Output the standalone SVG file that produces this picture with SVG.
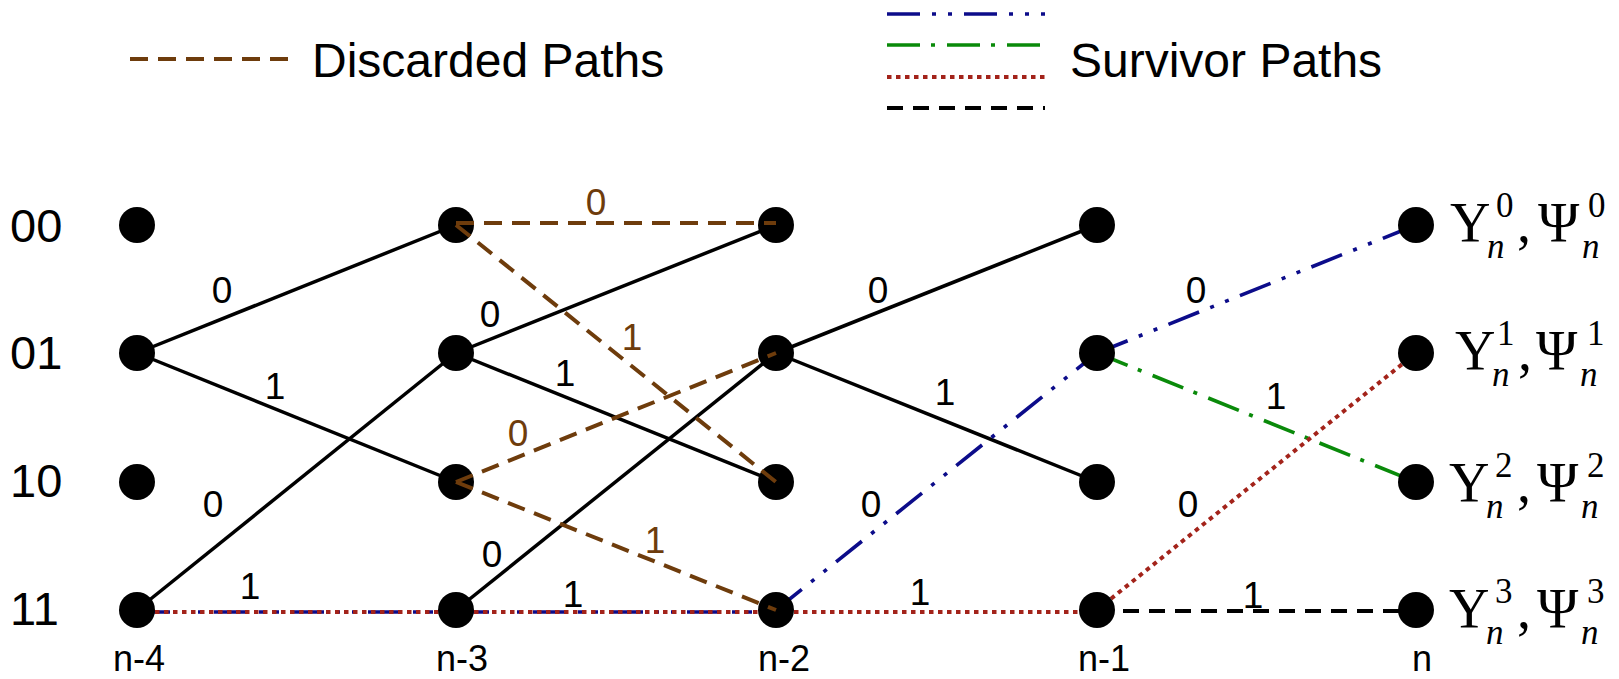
<svg xmlns="http://www.w3.org/2000/svg" width="1619" height="679" viewBox="0 0 1619 679">
<style>
.sans{font-family:"Liberation Sans",Arial,sans-serif;fill:#000}
.row{font-size:47px}
.col{font-size:36px;text-anchor:middle}
.el{font-size:37px;text-anchor:middle}
.elb{fill:#6e3c0c}
.leg{font-size:48px}
.serif{font-family:"Liberation Serif","Times New Roman",serif;fill:#000}
.big{font-size:56px}
.sm{font-size:35px}
.it{font-style:italic}
.solid{stroke:#000;stroke-width:3.5;fill:none}
.disc{stroke:#6e3c0c;stroke-width:4;stroke-dasharray:18 10;fill:none}
.blue{stroke:#0c0c8a;stroke-width:3.6;stroke-dasharray:33 12 4 12 4 12;fill:none}
.green{stroke:#0a8a0a;stroke-width:3.6;stroke-dasharray:33 11 4 12;fill:none}
.red{stroke:#a3231a;stroke-width:4;stroke-dasharray:4.5 4.5;fill:none}
.blk{stroke:#000;stroke-width:4;stroke-dasharray:16 10;fill:none}
.node{fill:#000}
</style>

<g id="legend">
<line class="disc" x1="130" y1="59" x2="288" y2="59"/>
<text class="sans leg" x="312" y="77">Discarded Paths</text>
<line class="blue" x1="887" y1="14" x2="1045" y2="14"/>
<line class="green" x1="887" y1="45" x2="1045" y2="45"/>
<line class="red" x1="887" y1="77" x2="1045" y2="77"/>
<line class="blk" x1="887" y1="108" x2="1045" y2="108"/>
<text class="sans leg" x="1070" y="77">Survivor Paths</text>
</g>

<g id="row-labels" class="sans row">
<text x="10" y="242">00</text>
<text x="10" y="369">01</text>
<text x="10" y="497">10</text>
<text x="10" y="625">11</text>
</g>

<g id="col-labels" class="sans col">
<text x="139" y="671">n-4</text>
<text x="462" y="671">n-3</text>
<text x="784" y="671">n-2</text>
<text x="1104" y="671">n-1</text>
<text x="1422" y="671">n</text>
</g>

<g id="connectors">
<line class="solid" x1="137" y1="353" x2="456" y2="225"/>
<line class="solid" x1="137" y1="353" x2="456" y2="482"/>
<line class="solid" x1="137" y1="610" x2="456" y2="353"/>
<line class="blue" x1="137" y1="612" x2="456" y2="612"/>
<line class="red" x1="137" y1="612" x2="456" y2="612"/>
<line class="solid" x1="456" y1="353" x2="776" y2="225"/>
<line class="solid" x1="456" y1="353" x2="776" y2="482"/>
<line class="solid" x1="456" y1="610" x2="776" y2="353"/>
<line class="blue" x1="456" y1="612" x2="776" y2="612"/>
<line class="red" x1="456" y1="612" x2="776" y2="612"/>
<line class="solid" x1="776" y1="353" x2="1097" y2="225"/>
<line class="solid" x1="776" y1="353" x2="1097" y2="482"/>
<line class="blue" x1="776" y1="610" x2="1097" y2="353"/>
<line class="red" x1="776" y1="612" x2="1097" y2="612"/>
<line class="blue" x1="1097" y1="353" x2="1416" y2="225"/>
<line class="green" x1="1097" y1="353" x2="1416" y2="482"/>
<line class="red" x1="1097" y1="610" x2="1416" y2="353"/>
<line class="blk" x1="1097" y1="611" x2="1416" y2="611"/>
</g>

<g id="nodes">
<g id="n4-00"><circle class="node" cx="137" cy="225" r="18"/></g>
<g id="n4-01"><circle class="node" cx="137" cy="353" r="18"/></g>
<g id="n4-10"><circle class="node" cx="137" cy="482" r="18"/></g>
<g id="n4-11"><circle class="node" cx="137" cy="610" r="18"/></g>
<g id="n3-00"><circle class="node" cx="456" cy="225" r="18"/></g>
<g id="n3-01"><circle class="node" cx="456" cy="353" r="18"/></g>
<g id="n3-10"><circle class="node" cx="456" cy="482" r="18"/></g>
<g id="n3-11"><circle class="node" cx="456" cy="610" r="18"/></g>
<g id="n2-00"><circle class="node" cx="776" cy="225" r="18"/></g>
<g id="n2-01"><circle class="node" cx="776" cy="353" r="18"/></g>
<g id="n2-10"><circle class="node" cx="776" cy="482" r="18"/></g>
<g id="n2-11"><circle class="node" cx="776" cy="610" r="18"/></g>
<g id="n1-00"><circle class="node" cx="1097" cy="225" r="18"/></g>
<g id="n1-01"><circle class="node" cx="1097" cy="353" r="18"/></g>
<g id="n1-10"><circle class="node" cx="1097" cy="482" r="18"/></g>
<g id="n1-11"><circle class="node" cx="1097" cy="610" r="18"/></g>
<g id="n0-00"><circle class="node" cx="1416" cy="225" r="18"/>
<text class="serif big" x="1450" y="242">Υ</text><text class="serif sm" x="1496" y="217">0</text><text class="serif sm it" x="1487" y="258">n</text><text class="serif big" x="1517" y="242">,</text><text class="serif big" x="1538" y="242">Ψ</text><text class="serif sm" x="1588" y="217">0</text><text class="serif sm it" x="1582" y="258">n</text>
</g>
<g id="n0-01"><circle class="node" cx="1416" cy="353" r="18"/>
<text class="serif big" x="1455" y="370">Υ</text><text class="serif sm" x="1497" y="345">1</text><text class="serif sm it" x="1492" y="386">n</text><text class="serif big" x="1518" y="370">,</text><text class="serif big" x="1536" y="370">Ψ</text><text class="serif sm" x="1587" y="345">1</text><text class="serif sm it" x="1580" y="386">n</text>
</g>
<g id="n0-10"><circle class="node" cx="1416" cy="482" r="18"/>
<text class="serif big" x="1449" y="502">Υ</text><text class="serif sm" x="1495" y="477">2</text><text class="serif sm it" x="1486" y="518">n</text><text class="serif big" x="1517" y="502">,</text><text class="serif big" x="1537" y="502">Ψ</text><text class="serif sm" x="1587" y="477">2</text><text class="serif sm it" x="1581" y="518">n</text>
</g>
<g id="n0-11"><circle class="node" cx="1416" cy="610" r="18"/>
<text class="serif big" x="1449" y="628">Υ</text><text class="serif sm" x="1495" y="603">3</text><text class="serif sm it" x="1486" y="644">n</text><text class="serif big" x="1517" y="628">,</text><text class="serif big" x="1537" y="628">Ψ</text><text class="serif sm" x="1587" y="603">3</text><text class="serif sm it" x="1581" y="644">n</text>
</g>
</g>

<g id="connectors-discarded">
<line class="disc" x1="456" y1="223" x2="776" y2="223"/>
<line class="disc" x1="456" y1="225" x2="776" y2="482"/>
<line class="disc" x1="456" y1="482" x2="776" y2="353"/>
<line class="disc" x1="456" y1="482" x2="776" y2="610"/>
</g>

<g id="edge-labels" class="sans el">
<text x="222" y="303">0</text>
<text x="275" y="399">1</text>
<text x="213" y="517">0</text>
<text x="250" y="599">1</text>
<text class="elb" x="596" y="215">0</text>
<text x="490" y="327">0</text>
<text class="elb" x="632" y="350">1</text>
<text x="565" y="386">1</text>
<text class="elb" x="518" y="446">0</text>
<text class="elb" x="655" y="553">1</text>
<text x="492" y="567">0</text>
<text x="573" y="607">1</text>
<text x="878" y="303">0</text>
<text x="945" y="405">1</text>
<text x="871" y="517">0</text>
<text x="920" y="605">1</text>
<text x="1196" y="303">0</text>
<text x="1276" y="409">1</text>
<text x="1188" y="517">0</text>
<text x="1253" y="608">1</text>
</g>
</svg>
